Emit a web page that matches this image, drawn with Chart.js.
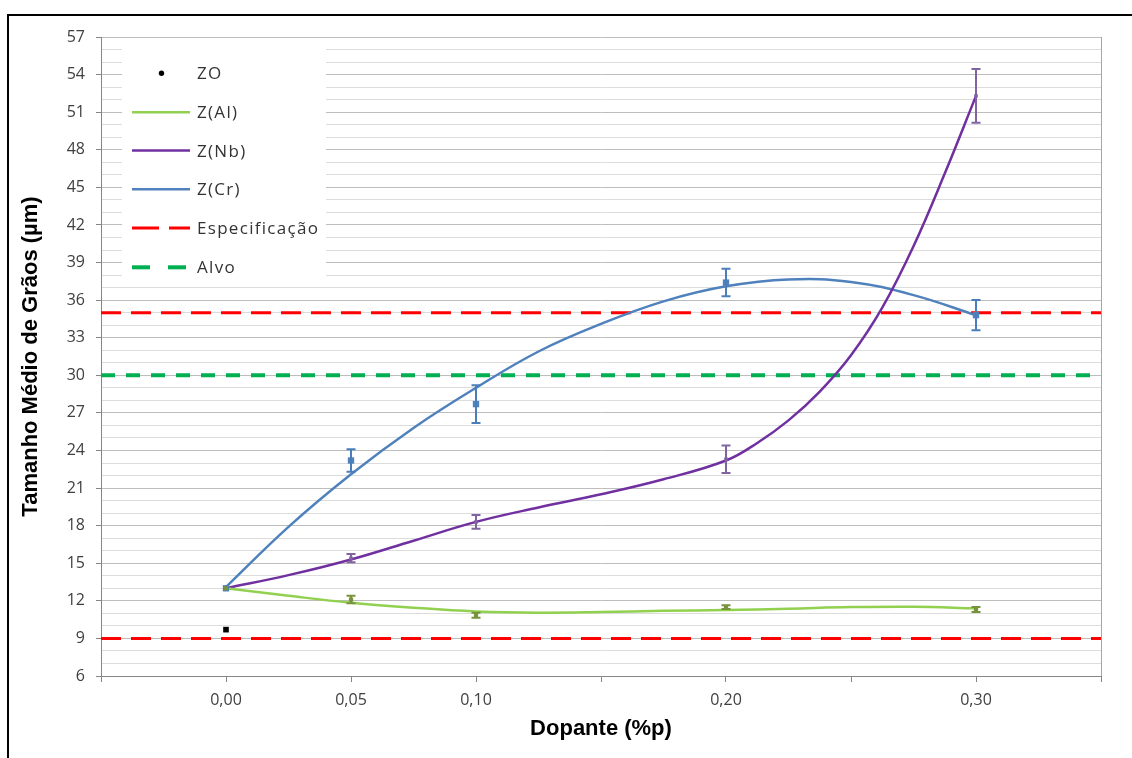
<!DOCTYPE html>
<html><head><meta charset="utf-8">
<script src="https://cdn.jsdelivr.net/npm/chart.js@4.4.0/dist/chart.umd.min.js"></script>
<style>
html,body{margin:0;padding:0;background:#fff;overflow:hidden}
#wrap{position:absolute;left:0;top:0;width:1132px;height:758px}
#frame{position:absolute;left:7px;top:14px;width:1300px;height:900px;border-left:2px solid #000;border-top:2px solid #000;pointer-events:none}
</style></head><body>
<div id="wrap"><canvas id="c" width="1132" height="758"></canvas></div>
<div id="frame"></div>
<script>
// ---- data ----
const dopant = [0.00, 0.05, 0.10, 0.20, 0.30];
const xTickLabels = [0.00, 0.05, 0.10, 0.20, 0.30];
const zoX = [0.00];
const zoValues = [9.7];
const alValues = [13.0, 12.1, 10.85, 11.5, 11.3];
const alErrors = [0, 0.3, 0.2, 0.15, 0.2];
const nbValues = [13.0, 15.4, 18.3, 23.3, 52.3];
const nbErrors = [0, 0.33, 0.55, 1.1, 2.15];
const crValues = [13.0, 23.2, 27.7, 37.4, 34.8];
const crErrors = [0, 0.9, 1.5, 1.1, 1.2];
// trend curves
const trendX = [0, 0.025, 0.05, 0.075, 0.10, 0.125, 0.15, 0.175, 0.20, 0.225, 0.25, 0.275, 0.30];
const alTrend = [13.0, 12.4, 11.85, 11.45, 11.15, 11.05, 11.1, 11.2, 11.27, 11.37, 11.5, 11.53, 11.4];
const crTrend = [13.1, 17.9, 22.1, 25.8, 29.0, 31.9, 34.1, 35.9, 37.1, 37.65, 37.45, 36.4, 34.8];
const nbTrendX = [0, 0.025, 0.05, 0.075, 0.10, 0.125, 0.15, 0.175, 0.20, 0.2125, 0.225, 0.2375, 0.25, 0.2625, 0.275, 0.2875, 0.30];
const nbTrend = [13.0, 14.05, 15.3, 16.8, 18.3, 19.45, 20.5, 21.7, 23.2, 24.6, 26.4, 28.7, 31.6, 35.4, 40.3, 46.1, 52.3];
const specLimits = [35, 9];
const targetValue = [30];
const xRange = [-0.05, 0.35];
const yRange = [6, 57];

const pts = (xs, ys) => xs.map((x, i) => ({x: x, y: ys[i]}));
const hline = (v) => [{x: xRange[0], y: v}, {x: xRange[1], y: v}];

const C_AL = '#92d050', C_NB = '#7030a0', C_CR = '#4f81bd', C_RED = '#ff0000', C_GREEN = '#00b050';

const datasets = [
  {label: 'ZO', data: pts(zoX, zoValues), showLine: false, pointStyle: 'rect', pointRadius: 4,
   backgroundColor: '#000', borderColor: '#000', borderWidth: 0, order: 1,
   legend: {kind: 'dot', color: '#000'}},
  {label: 'Z(Al)', data: pts(trendX, alTrend), borderColor: C_AL, borderWidth: 2.5, pointRadius: 0,
   tension: 0.4, order: 5, legend: {kind: 'line', color: C_AL, width: 2.5, dash: []}},
  {label: 'Z(Nb)', data: pts(nbTrendX, nbTrend), borderColor: C_NB, borderWidth: 2.5, pointRadius: 0,
   tension: 0.4, order: 5, legend: {kind: 'line', color: C_NB, width: 2.5, dash: []}},
  {label: 'Z(Cr)', data: pts(trendX, crTrend), borderColor: C_CR, borderWidth: 2.5, pointRadius: 0,
   tension: 0.4, order: 5, legend: {kind: 'line', color: C_CR, width: 2.5, dash: []}},
  {label: 'Especificação', data: hline(specLimits[0]), borderColor: C_RED, borderWidth: 3, borderDash: [20, 10],
   pointRadius: 0, order: 10, legend: {kind: 'line', color: C_RED, width: 3, dash: [27, 10]}},
  {label: 'Especificação (inferior)', data: hline(specLimits[1]), borderColor: C_RED, borderWidth: 3, borderDash: [20, 10],
   pointRadius: 0, order: 10},
  {label: 'Alvo', data: hline(targetValue[0]), borderColor: C_GREEN, borderWidth: 4, borderDash: [14, 11],
   pointRadius: 0, order: 10, legend: {kind: 'line', color: C_GREEN, width: 4, dash: [18, 18]}},
  {label: 'Z(Al) dados', data: pts(dopant, alValues), showLine: false, pointStyle: 'rect', pointRadius: 3,
   backgroundColor: '#77933c', borderColor: '#77933c', borderWidth: 0, order: 1,
   errors: alErrors, errColor: '#77933c'},
  {label: 'Z(Nb) dados', data: pts(dopant, nbValues), showLine: false, pointStyle: 'rect', pointRadius: 2.5,
   backgroundColor: '#7d5ca0', borderColor: '#7d5ca0', borderWidth: 0, order: 1,
   errors: nbErrors, errColor: '#8064a2'},
  {label: 'Z(Cr) dados', data: pts(dopant, crValues), showLine: false, pointStyle: 'rect', pointRadius: 4.5,
   backgroundColor: C_CR, borderColor: C_CR, borderWidth: 0, order: 1,
   errors: crErrors, errColor: '#4a7ebb'}
];

const fmtX = (v) => {
  const r = Math.round(v * 100) / 100;
  return (r === 0 ? 0 : r).toFixed(2).replace('.', ',');
};

const decor = {
  id: 'decor',
  afterDatasetsDraw(chart) {
    const ctx = chart.ctx, xs = chart.scales.x, ys = chart.scales.y, area = chart.chartArea;
    ctx.save();
    // error bars
    chart.data.datasets.forEach(ds => {
      if (!ds.errors) return;
      ctx.strokeStyle = ds.errColor; ctx.lineWidth = 2; ctx.setLineDash([]);
      ds.data.forEach((p, i) => {
        const e = ds.errors[i];
        if (!e) return;
        const x = Math.round(xs.getPixelForValue(p.x));
        const y1 = ys.getPixelForValue(p.y + e), y2 = ys.getPixelForValue(p.y - e);
        ctx.beginPath();
        ctx.moveTo(x, y1); ctx.lineTo(x, y2);
        ctx.moveTo(x - 4.5, y1); ctx.lineTo(x + 4.5, y1);
        ctx.moveTo(x - 4.5, y2); ctx.lineTo(x + 4.5, y2);
        ctx.stroke();
      });
    });
    // plot area right border
    ctx.strokeStyle = '#a6a6a6'; ctx.lineWidth = 1;
    ctx.beginPath(); ctx.moveTo(area.right + 0.5, area.top); ctx.lineTo(area.right + 0.5, area.bottom); ctx.stroke();
    // legend box
    ctx.fillStyle = '#fff';
    ctx.fillRect(122, 43, 204, 243);
    const rows = chart.data.datasets.filter(d => d.legend);
    const rowY = [73.3, 112.3, 150.5, 189.3, 228, 267.3];
    ctx.font = '17px "Open Sans"';
    if ('letterSpacing' in ctx) ctx.letterSpacing = '1.3px';
    ctx.textBaseline = 'alphabetic';
    ctx.textAlign = 'left';
    rows.forEach((d, i) => {
      const y = rowY[i], L = d.legend;
      if (L.kind === 'dot') {
        ctx.fillStyle = L.color;
        ctx.beginPath(); ctx.arc(161.5, y, 2.7, 0, Math.PI * 2); ctx.fill();
      } else {
        ctx.strokeStyle = L.color; ctx.lineWidth = L.width; ctx.setLineDash(L.dash); ctx.lineCap = 'butt';
        ctx.beginPath(); ctx.moveTo(132, y); ctx.lineTo(190, y); ctx.stroke();
        ctx.setLineDash([]);
      }
      ctx.fillStyle = '#333333';
      ctx.fillText(d.label, 197, y + 6);
    });
    ctx.restore();
  }
};

new Chart(document.getElementById('c'), {
  type: 'line',
  data: {datasets: datasets},
  plugins: [decor],
  options: {
    responsive: false,
    animation: false,
    devicePixelRatio: 1,
    layout: {padding: {left: 0, top: 37, right: 31, bottom: 0}},
    plugins: {legend: {display: false}, tooltip: {enabled: false}},
    elements: {line: {fill: false, borderCapStyle: 'butt'}},
    scales: {
      x: {
        type: 'linear', min: xRange[0], max: xRange[1],
        afterFit(s) { s.height = 82; },
        grid: {drawOnChartArea: false, tickLength: 6, color: '#868686'},
        border: {color: '#868686', width: 1},
        ticks: {
          stepSize: 0.05, autoSkip: false, maxRotation: 0, padding: 9,
          color: '#404040', font: {family: '"Open Sans"', size: 16},
          callback: (v) => xTickLabels.some(t => Math.abs(t - v) < 1e-9) ? fmtX(v) : ''
        },
        title: {display: true, text: 'Dopante (%p)', color: '#000',
          font: {family: '"Liberation Sans", Arial', size: 22, weight: 'bold'}, padding: {top: 0, bottom: 16}}
      },
      y: {
        type: 'linear', min: yRange[0], max: yRange[1],
        afterFit(s) { s.width = 101; },
        grid: {
          color: c => (c.tick && c.tick.value % 3 === 0) ? '#bdbdbd' : '#dcdcdc',
          tickColor: c => (c.tick && c.tick.value % 3 === 0) ? '#868686' : 'rgba(0,0,0,0)',
          tickLength: 5, lineWidth: 1
        },
        border: {color: '#868686', width: 1},
        ticks: {
          stepSize: 1, autoSkip: false, maxTicksLimit: 100, padding: 11,
          color: '#404040', font: {family: '"Open Sans"', size: 16},
          callback: (v) => (v % 3 === 0) ? String(v) : ''
        },
        title: {display: true, text: 'Tamanho Médio de Grãos (µm)', color: '#000',
          font: {family: '"Liberation Sans", Arial', size: 22, weight: 'bold'}, padding: {top: 18, bottom: 0}}
      }
    }
  }
});
</script>
</body></html>
